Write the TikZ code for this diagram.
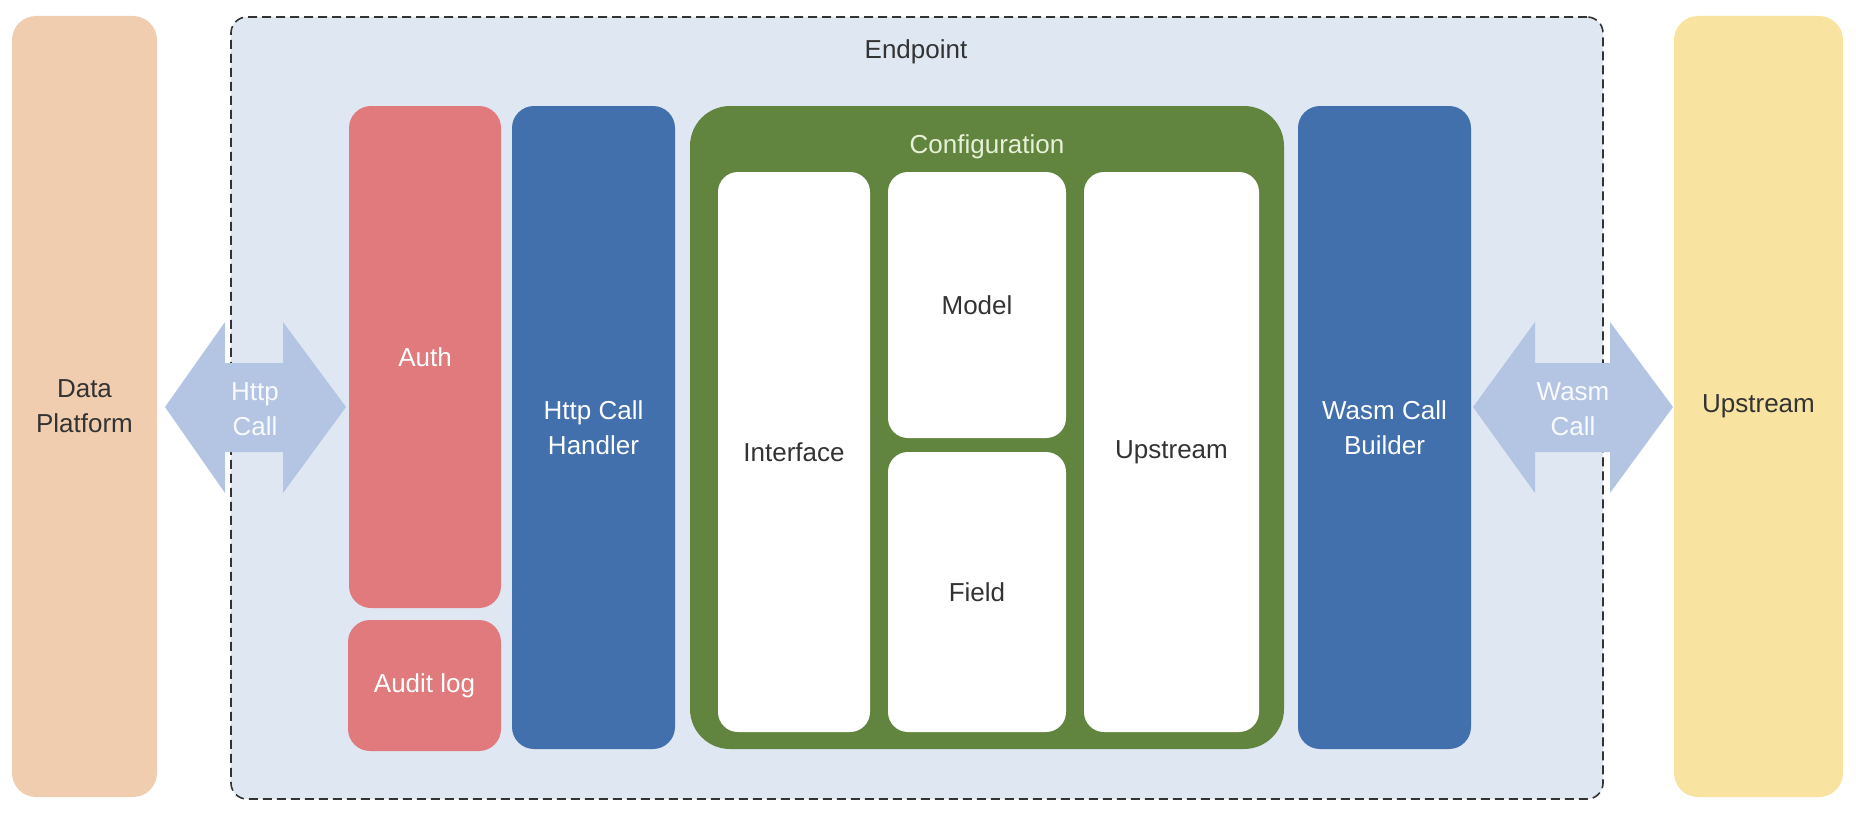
\documentclass[tikz,border=0pt]{standalone}
\usepackage{fontspec}
\setmainfont{Liberation Sans}
\definecolor{cPeach}{HTML}{F1CDB0}
\definecolor{cEnd}{HTML}{DFE7F3}
\definecolor{cRed}{HTML}{E07A7C}
\definecolor{cBlue}{HTML}{4170AD}
\definecolor{cGreen}{HTML}{61843E}
\definecolor{cYellow}{HTML}{F8E3A1}
\definecolor{cArrow}{HTML}{B4C5E3}
\definecolor{cCfgText}{HTML}{E8F1D8}
\definecolor{cDark}{HTML}{333333}
\begin{document}
\begin{tikzpicture}[x=1pt,y=-1pt,
  box/.style={inner sep=0pt, align=center, font=\fontsize{26}{35}\selectfont},
  outer/.style={box, rounded corners=24pt, text=cDark},
  redbox/.style={box, fill=cRed, rounded corners=22pt, text=white},
  bluebox/.style={box, fill=cBlue, rounded corners=22pt, text=white},
  whitebox/.style={box, fill=white, rounded corners=20pt, text=cDark},
  biarrow/.style={fill=cArrow},
  arrowtext/.style={box, text=white!92!cArrow},
]
\useasboundingbox (0,0) rectangle (1856,816);
% outer blocks
\node[outer, fill=cPeach, minimum width=145pt, minimum height=781pt] (dp) at (84.5,406.5) {Data\\Platform};
\node[outer, fill=cYellow, minimum width=169pt, minimum height=781pt] (up) at (1758.5,406.5) {Upstream};
% endpoint container
\node[box, fill=cEnd, draw=cDark, line width=1.6pt, dash pattern=on 9pt off 5pt, rounded corners=16pt,
      minimum width=1372pt, minimum height=782pt] (ep) at (917,408) {};
\node[box, text=cDark] (eplabel) at (916,52) {Endpoint};
% left column
\node[redbox, minimum width=152pt, minimum height=502pt] (auth) at (425,357) {Auth};
\node[redbox, minimum width=153pt, minimum height=131pt] (audit) at (424.5,685.5) {Audit log};
\node[bluebox, minimum width=163pt, minimum height=643pt] (hch) at (593.5,427.5) {Http Call\\Handler};
% configuration
\node[box, fill=cGreen, rounded corners=40pt, minimum width=594pt, minimum height=643pt] (cfg) at (987,427.5) {};
\node[box, text=cCfgText] (cfglabel) at (987,147) {Configuration};
\node[whitebox, minimum width=152pt, minimum height=560pt] (iface) at (794,452) {Interface};
\node[whitebox, minimum width=178pt, minimum height=266pt] (model) at (977,305) {Model};
\node[whitebox, minimum width=178pt, minimum height=280pt] (field) at (977,592) {Field};
\node[whitebox, minimum width=175pt, minimum height=560pt] (ups) at (1171.5,452) {Upstream};
% wasm builder
\node[bluebox, minimum width=173pt, minimum height=643pt] (wcb) at (1384.5,427.5) {Wasm Call\\Builder};
% double arrows
\fill[biarrow] (165,407) -- (225,322) -- (225,363) -- (283,363) -- (283,322) -- (346,407)
  -- (283,493) -- (283,452) -- (225,452) -- (225,493) -- cycle;
\node[arrowtext] (httpcall) at (255,409) {Http\\Call};
\fill[biarrow] (1473,407) -- (1535,322) -- (1535,363) -- (1610,363) -- (1610,322) -- (1673,407)
  -- (1610,493) -- (1610,452) -- (1535,452) -- (1535,493) -- cycle;
\node[arrowtext] (wasmcall) at (1573,409) {Wasm\\Call};
\end{tikzpicture}
\end{document}
